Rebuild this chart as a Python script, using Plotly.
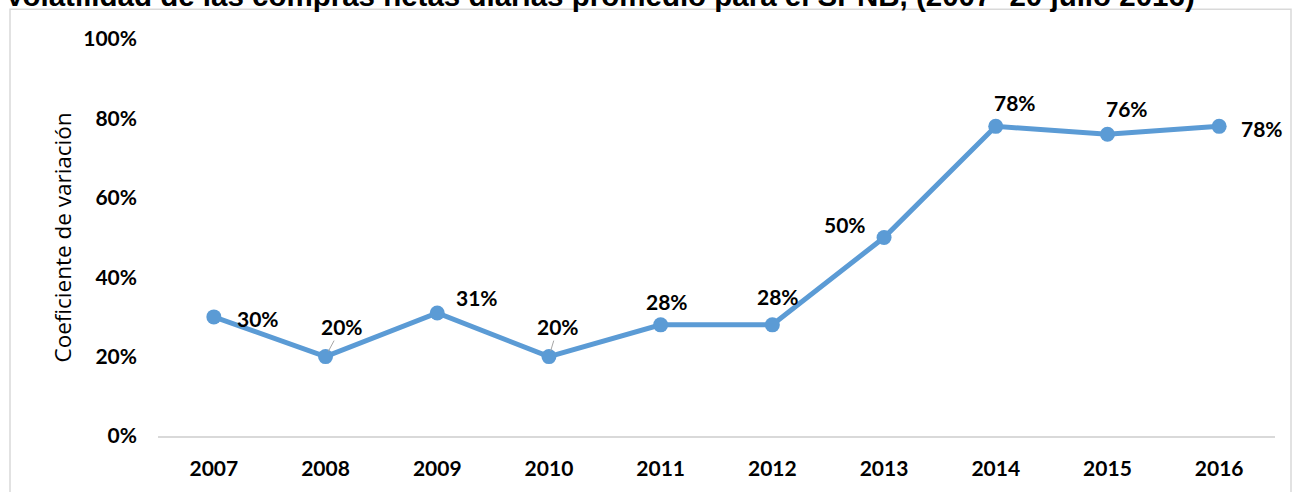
import plotly.graph_objects as go

# Coeficiente de variación de las compras netas diarias promedio por año
years = ["2007", "2008", "2009", "2010", "2011", "2012", "2013", "2014", "2015", "2016"]
cv = [0.30, 0.20, 0.31, 0.20, 0.28, 0.28, 0.50, 0.78, 0.76, 0.78]
labels = ["30%", "20%", "31%", "20%", "28%", "28%", "50%", "78%", "76%", "78%"]
y_ticks = [0, 0.2, 0.4, 0.6, 0.8, 1.0]

title_text = "Volatilidad de las compras netas diarias promedio para el SPNB, (2007- 20 julio 2016)"
y_title = "Coeficiente de variación"

# label placement (pixel offsets from each point) and leader-line flags
label_dx = [44, 16, 40, 9, 6, 6, -39, 19, 20, 43]
label_dy = [2, -30, -15, -30, -23, -28, -13, -24, -26, 2]
leader = [False, True, False, True, False, False, False, False, False, False]

BLUE = "#5B9BD5"
GRID = "#D9D9D9"
FONT = "Lato"
LABEL_FONT = dict(family=FONT, size=21, color="black", weight="bold")

W, H = 1292, 492
L, R, T, B = 158, 17, 39, 51

fig = go.Figure()
fig.add_trace(go.Scatter(
    x=years, y=cv, mode="lines+markers",
    line=dict(color=BLUE, width=5),
    marker=dict(color=BLUE, size=15),
    hoverinfo="skip", showlegend=False,
))

annotations = []
# category axis: annotations are placed by category index
for i, (v, txt, dx, dy, ld) in enumerate(zip(cv, labels, label_dx, label_dy, leader)):
    if ld:
        annotations.append(dict(
            x=i, y=v, xref="x", yref="y", text=txt, showarrow=True,
            ax=dx, ay=dy, arrowhead=0, arrowwidth=1, arrowcolor="#A6A6A6",
            standoff=6, font=LABEL_FONT,
        ))
    else:
        annotations.append(dict(
            x=i, y=v, xref="x", yref="y", text=txt, showarrow=False,
            xshift=dx, yshift=-dy, font=LABEL_FONT,
        ))

pw = W - L - R
ph = H - T - B
# axis title
annotations.append(dict(
    x=(62 - L) / pw, y=0.5, xref="paper", yref="paper", text=y_title,
    textangle=-90, showarrow=False, xanchor="center", yanchor="middle",
    font=dict(family="Open Sans", size=22.5, color="black"),
))
# chart title (runs off the top edge)
annotations.append(dict(
    x=(3 - L) / pw, y=1 + (T + 5) / ph, xref="paper", yref="paper", text=title_text,
    showarrow=False, xanchor="left", yanchor="middle",
    font=dict(family="Liberation Sans", size=29.5, color="black", weight="bold"),
))

# outer chart border
shapes = [dict(
    type="rect", xref="paper", yref="paper", layer="below",
    x0=(10 - L) / pw, x1=(1291 - L) / pw,
    y0=-(B + 20) / ph, y1=1 + (T - 9) / ph,
    line=dict(color=GRID, width=1.5), fillcolor="rgba(0,0,0,0)",
)]

fig.update_layout(
    width=W, height=H,
    margin=dict(l=L, r=R, t=T, b=B),
    paper_bgcolor="white", plot_bgcolor="white",
    annotations=annotations, shapes=shapes,
    xaxis=dict(
        type="category", range=[-0.5, 9.5], showgrid=False, zeroline=False,
        showline=True, linecolor=GRID, linewidth=1.5, ticks="",
        ticklabelstandoff=13,
        tickfont=dict(family=FONT, size=21, color="black", weight="bold"),
    ),
    yaxis=dict(
        range=[0, 1], tickvals=y_ticks, tickformat=".0%", showgrid=False,
        zeroline=False, showline=False, ticks="", ticklabelstandoff=20,
        tickfont=dict(family=FONT, size=21, color="black", weight="bold"),
    ),
)

fig.write_html("out.html")
